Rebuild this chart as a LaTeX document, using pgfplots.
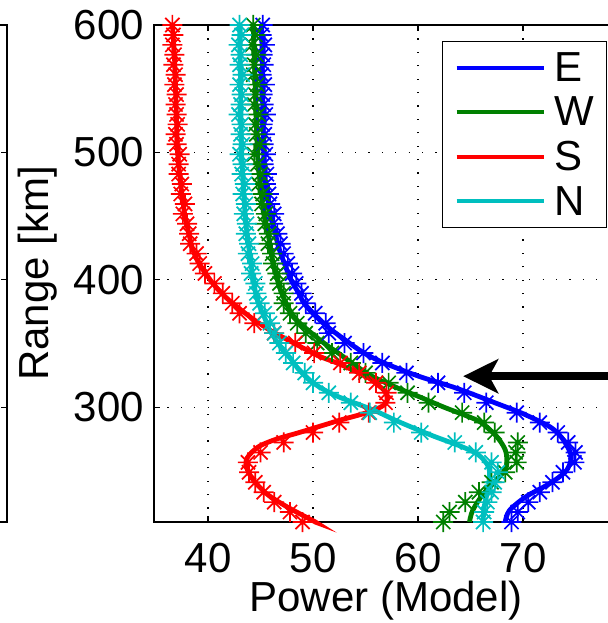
\documentclass[border=0pt]{standalone}
\usepackage{pgfplots}
\pgfplotsset{compat=1.18}
\usepackage{fontspec}
\setmainfont{Liberation Sans}
\usetikzlibrary{arrows.meta}
\definecolor{mE}{rgb}{0,0,1}
\definecolor{mW}{rgb}{0,0.5,0}
\definecolor{mS}{rgb}{1,0,0}
\definecolor{mN}{rgb}{0,0.75,0.75}
\pgfdeclareplotmark{mstar}{%
 \pgfpathmoveto{\pgfqpoint{-\pgfplotmarksize}{0pt}}\pgfpathlineto{\pgfqpoint{\pgfplotmarksize}{0pt}}%
 \pgfpathmoveto{\pgfqpoint{0pt}{-\pgfplotmarksize}}\pgfpathlineto{\pgfqpoint{0pt}{\pgfplotmarksize}}%
 \pgfpathmoveto{\pgfqpoint{-0.707\pgfplotmarksize}{-0.707\pgfplotmarksize}}\pgfpathlineto{\pgfqpoint{0.707\pgfplotmarksize}{0.707\pgfplotmarksize}}%
 \pgfpathmoveto{\pgfqpoint{-0.707\pgfplotmarksize}{0.707\pgfplotmarksize}}\pgfpathlineto{\pgfqpoint{0.707\pgfplotmarksize}{-0.707\pgfplotmarksize}}%
 \pgfusepathqstroke}
\newcommand{\bigf}{\fontsize{42}{50}\selectfont}
\pgfplotsset{mkr/.style={only marks, mark=mstar, mark size=10pt, mark options={line width=1.7pt}, forget plot},
 crv/.style={smooth, no marks, line width=4.8pt}}
\begin{document}
\begin{tikzpicture}[font=\bigf]
\useasboundingbox (0,0) rectangle (607pt,623pt);
% left (neighbouring) panel, only its right edge is visible
\begin{axis}[at={(7pt,101pt)}, anchor=south east, scale only axis, width=300pt, height=497pt,
 xmin=0, xmax=1, ymin=210, ymax=600, xtick=\empty, ytick={300,400,500}, yticklabels={},
 tick align=inside, major tick length=6pt, every tick/.style={black, line width=1.2pt},
 axis line style={line width=1.6pt}]
\addplot[draw=none] coordinates {(0.5,400)};
\end{axis}
\begin{axis}[at={(154pt,101pt)}, anchor=south west, scale only axis, width=474pt, height=497pt,
 xmin=34.85, xmax=80, ymin=210, ymax=600,
 xtick={40,50,60,70}, ytick={300,400,500,600},
 tick align=inside, major tick length=6pt,
 every tick/.style={black, line width=1.2pt},
 axis line style={line width=1.6pt},
 grid=major, major grid style={black, line width=1.2pt, dash pattern=on 1.2pt off 12.2pt},
 tick label style={font=\bigf},
 /pgf/number format/assume math mode=true,
 xticklabel style={anchor=north, inner sep=0pt, yshift=-21pt},
 yticklabel style={anchor=east, inner sep=0pt, xshift=-10pt},
 xlabel={Power (Model)}, ylabel={Range [km]},
 label style={font=\bigf},
 xlabel style={at={(axis description cs:0.4895,-0.18)}, anchor=base, inner sep=0pt},
 ylabel style={at={(axis description cs:-0.2447,0.5)}, anchor=center, inner sep=0pt},
 clip=false,
 legend style={at={(0.6076,0.9678)}, anchor=north west, draw=black, line width=1.3pt, fill=white,
   font=\bigf, inner xsep=12pt, inner ysep=11pt, row sep=14pt, column sep=9pt,
   nodes={inner sep=0pt}},
 legend cell align=left,
 legend image code/.code={\draw[#1, line width=4pt] (0pt,0pt) -- (87pt,0pt);},
]
% ---- data markers ----
\addplot[mkr, color=mE] coordinates {
(45.2,600)(45.1,592.2)(45.4,584.4)(45.2,576.6)(45.3,568.8)(45.1,561)(45.4,553.2)(45.2,545.4)(45.3,537.6)(45.5,529.8)
(45.2,522)(45.4,514.2)(45.3,506.4)(45.5,498.6)(45.3,490.8)(45.6,483)(45.5,475.2)(45.8,467.4)(45.9,459.6)(46.3,451.8)
(46.2,444)(46.6,436.2)(46.9,428.4)(47.2,420.6)(47.6,412.8)(48.0,405)(48.4,397.2)(48.9,389.4)(49.3,381.6)(50.2,373.8)
(51.2,366)(51.5,358.2)(53.0,350.4)(54.8,342.6)(56.6,334.8)(58.9,327)(61.9,319.2)(64.4,311.4)(66.5,303.6)(69.4,295.8)
(71.6,288)(73.3,280.2)(74.3,272.4)(75.0,264.6)(74.9,256.8)(73.8,249)(72.8,241.2)(71.6,233.4)(70.5,225.6)(69.5,217.8)(68.9,210)};
\addplot[mkr, color=mW] coordinates {
(44.3,600)(44.5,592.2)(44.2,584.4)(44.6,576.6)(44.4,568.8)(44.3,561)(44.7,553.2)(44.5,545.4)(44.4,537.6)(44.8,529.8)
(44.5,522)(44.6,514.2)(44.9,506.4)(44.4,498.6)(44.7,490.8)(45.0,483)(44.8,475.2)(45.2,467.4)(45.1,459.6)(45.5,451.8)
(45.4,444)(45.8,436.2)(45.7,428.4)(46.1,420.6)(46.2,412.8)(46.6,405)(46.8,397.2)(47.2,389.4)(47.2,381.6)(47.8,373.8)
(48.5,366)(49.3,358.2)(50.4,350.4)(51.8,342.6)(53.6,334.8)(55.0,327)(57.2,319.2)(59.0,311.4)(61.0,303.6)(64.2,295.8)
(66.3,288)(67.3,280.2)(69.5,272.4)(69.3,264.6)(69.4,256.8)(68.3,249)(67.0,241.2)(65.8,233.4)(64.5,225.6)(63.0,217.8)(62.4,210)};
\addplot[mkr, color=mS] coordinates {
(36.6,600)(36.7,592.2)(36.6,584.4)(36.8,576.6)(36.7,568.8)(36.9,561)(36.8,553.2)(37.0,545.4)(36.9,537.6)(37.0,529.8)
(37.1,522)(36.9,514.2)(37.0,506.4)(37.3,498.6)(37.2,490.8)(37.2,483)(37.5,475.2)(37.4,467.4)(37.8,459.6)(37.6,451.8)
(38.0,444)(38.2,436.2)(38.3,428.4)(38.9,420.6)(39.2,412.8)(39.7,405)(40.6,397.2)(41.4,389.4)(42.3,381.6)(43.0,373.8)
(44.4,366)(46.3,358.2)(48.3,350.4)(50.1,342.6)(52.6,334.8)(54.4,327)(56.0,319.2)(57.0,311.4)(56.9,303.6)(55.3,295.8)
(52.5,288)(50.0,280.2)(47.2,272.4)(45.0,264.6)(43.8,256.8)(43.9,249)(44.5,241.2)(45.3,233.4)(46.3,225.6)(47.8,217.8)(49.0,210)};
\addplot[mkr, color=mN] coordinates {
(43.0,600)(43.2,592.2)(42.9,584.4)(43.1,576.6)(43.0,568.8)(43.3,561)(43.0,553.2)(43.2,545.4)(43.1,537.6)(42.9,529.8)
(43.2,522)(43.1,514.2)(43.3,506.4)(43.0,498.6)(43.3,490.8)(43.2,483)(43.5,475.2)(43.3,467.4)(43.6,459.6)(43.4,451.8)
(43.7,444)(43.6,436.2)(43.9,428.4)(43.8,420.6)(44.2,412.8)(44.1,405)(44.5,397.2)(44.6,389.4)(44.9,381.6)(45.4,373.8)
(45.9,366)(46.3,358.2)(46.8,350.4)(47.4,342.6)(48.1,334.8)(49.2,327)(50.0,319.2)(51.5,311.4)(53.6,303.6)(55.4,295.8)
(57.7,288)(60.3,280.2)(63.5,272.4)(65.5,264.6)(67.0,256.8)(67.6,249)(67.3,241.2)(67.0,233.4)(66.6,225.6)(66.3,217.8)(66.2,210)};
% ---- model curves ----
\addplot[crv, color=mE] coordinates {
(45.1,600)(45.2,550)(45.3,500)(45.4,478)(45.7,462)(45.9,452)(46.4,437)(46.7,426)(47.4,410)(47.9,400)(48.6,390)
(49.2,381)(50.2,372)(51.4,363)(52.7,355)(54.4,345)(55.9,338)(57.6,332)(60.2,324)(63.3,316)(65.3,310)(67.5,303)
(70.0,295)(72.5,285)(73.5,278)(74.1,271)(74.6,261)(74.1,250)(72.5,240)(70.3,230)(68.7,219)(68.3,210)};
\addlegendentry{E}
\addplot[crv, color=mW] coordinates {
(44.3,600)(44.5,550)(44.7,500)(45.0,473)(45.3,452)(45.7,437)(46.2,413)(46.6,400)(46.9,392)(47.3,384)(47.8,376)
(48.5,368)(49.6,360)(51.1,350)(52.5,342)(54.0,333)(55.7,324)(58.1,315)(60.2,308)(62.5,300)(65.6,290)(66.6,284)
(67.5,277)(68.1,270)(68.4,264)(68.4,253)(67.5,243)(66.2,232)(65.2,219)(64.9,210)};
\addlegendentry{W}
\addplot[crv, color=mS] coordinates {
(36.6,600)(36.8,575)(36.9,550)(37.0,525)(37.1,500)(37.4,475)(37.6,462)(37.8,450)(38.1,439)(38.5,425)(39.0,415)
(40.2,400)(41.0,392)(42.0,384)(43.2,376)(44.5,368)(46.0,360)(47.8,352)(49.4,345)(50.6,340)(52.5,334)(55.1,324)
(56.1,318)(56.8,313)(57.1,307)(56.9,303)(56.4,300)(54.8,295)(52.6,290)(51.0,286)(48.6,280)(46.5,275)(45.0,270)
(44.2,265)(43.7,260)(43.6,255)(43.8,250)(44.3,243)(45.6,232)(47.5,222)(50.0,211)(50.2,210)};
\addlegendentry{S}
\addplot[crv, color=mN] coordinates {
(43.0,600)(43.1,550)(43.2,500)(43.5,455)(43.7,437)(44.0,418)(44.3,400)(44.7,384)(45.5,368)(45.9,360)(47.1,345)
(47.7,340)(48.6,330)(49.7,321)(51.0,314)(52.5,308)(55.7,298)(57.8,290)(59.8,283)(61.6,277)(63.9,270)(65.3,265)
(66.0,261)(66.6,255)(66.8,250)(66.7,237)(66.3,222)(66.2,210)};
\addlegendentry{N}
\draw[line width=8pt, -{Stealth[length=35pt, width=34pt, inset=9pt]}] (axis cs:82,324.4) -- (axis cs:64.3,324.4);
\end{axis}
\end{tikzpicture}
\end{document}
